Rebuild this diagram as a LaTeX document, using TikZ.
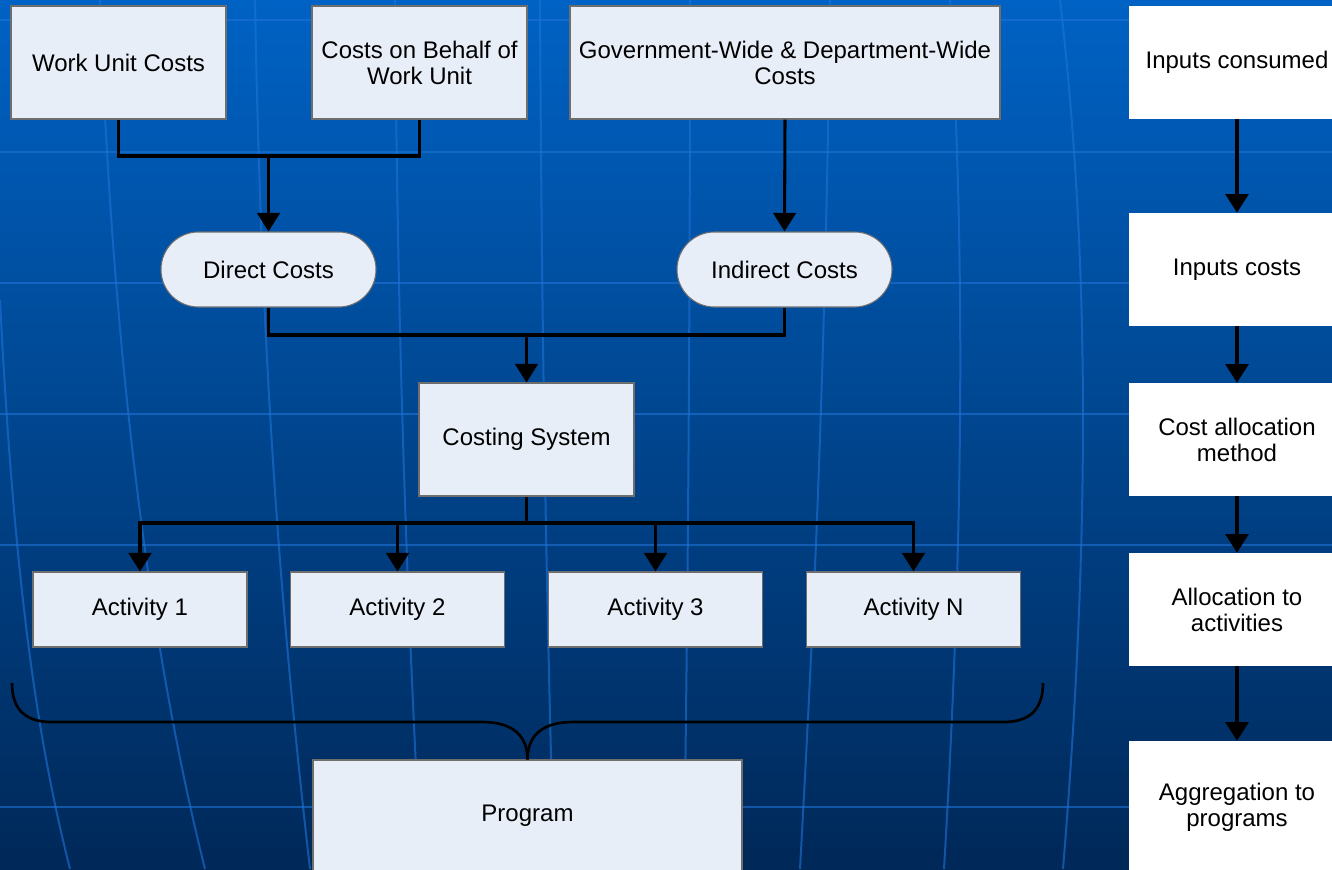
\documentclass[tikz,border=0pt]{standalone}
\usepackage{fontspec}
\setmainfont{Liberation Sans}
\usetikzlibrary{arrows.meta}

\definecolor{boxfill}{RGB}{232,238,248}
\definecolor{boxedge}{RGB}{110,110,110}
\definecolor{bgtop}{RGB}{0,98,196}
\definecolor{bgmid}{RGB}{0,76,154}
\definecolor{bgbot}{RGB}{0,40,88}
\definecolor{gridblue}{RGB}{30,115,215}

\tikzset{
  costbox/.style={draw=boxedge, fill=boxfill, line width=0.8pt, align=center,
    minimum width=161.25pt, minimum height=84.75pt, inner sep=2pt,
    font=\fontsize{18}{19.5}\selectfont},
  pillbox/.style={costbox, rounded corners=28pt, minimum height=56.25pt},
  actbox/.style={costbox, minimum width=160.5pt, minimum height=56.25pt},
  stagebox/.style={fill=white, align=center, minimum width=162pt,
    minimum height=84.75pt, inner sep=2pt, font=\fontsize{18}{19.5}\selectfont},
  link/.style={line width=2.3pt},
  flow/.style={link, -{Triangle[width=17pt,length=14pt]}},
  stageflow/.style={line width=3pt, -{Triangle[width=17pt,length=14pt]}},
  gridline/.style={draw=gridblue, opacity=0.6},
}

\begin{document}
\begin{tikzpicture}[x=0.75pt,y=0.75pt]
\useasboundingbox (0,0) rectangle (1332,-869);
% background
\shade [top color=bgtop, middle color=bgmid, bottom color=bgbot] (0,0) rectangle (1332,-869);
\foreach \y in {-20,-152,-283,-414,-545,-807}
  \draw [gridline, line width=2.2pt] (0,\y) -- (1332,\y);
\draw [gridline, line width=1.5pt] (0,-300) .. controls (15,-600) and (40,-750) .. (70,-869);
\draw [gridline, line width=1.5pt] (100,0) .. controls (112,-350) and (150,-650) .. (205,-869);
\draw [gridline, line width=1.5pt] (255,0) .. controls (262,-400) and (285,-650) .. (310,-869);
\draw [gridline, line width=1.5pt] (395,0) .. controls (398,-400) and (410,-650) .. (421,-869);
\draw [gridline, line width=1.5pt] (540,0) .. controls (542,-400) and (548,-650) .. (554,-869);
\draw [gridline, line width=1.5pt] (690,0) .. controls (690,-400) and (687,-650) .. (684,-869);
\draw [gridline, line width=1.5pt] (830,0) .. controls (825,-400) and (812,-650) .. (800,-869);
\draw [gridline, line width=1.5pt] (950,0) .. controls (968,-300) and (960,-600) .. (944,-869);
\draw [gridline, line width=1.5pt] (1060,0) .. controls (1095,-300) and (1085,-600) .. (1063,-869);

% cost sources
\node [costbox] (wuc) at (118.5,-62.5) {Work Unit Costs};
\node [costbox] (cob) at (419.5,-62.5) {Costs on Behalf of\\Work Unit};
\node [costbox, minimum width=322.5pt] (gov) at (785,-62.5) {Government-Wide \& Department-Wide\\Costs};
\node [pillbox] (direct) at (268.5,-269.5) {Direct Costs};
\node [pillbox] (indirect) at (784.5,-269.5) {Indirect Costs};
\node [costbox] (csys) at (526.5,-439.5) {Costing System};
\node [actbox] (act1) at (140,-609.5) {Activity 1};
\node [actbox] (act2) at (397.5,-609.5) {Activity 2};
\node [actbox] (act3) at (655.5,-609.5) {Activity 3};
\node [actbox] (actn) at (913.5,-609.5) {Activity N};
\node [costbox, minimum width=321.75pt, minimum height=84pt] (prog) at (527.5,-816) {Program};

\coordinate (djoin) at (268.5,-156);
\coordinate (cjoin) at (526.5,-335);
\coordinate (ajoin) at (526.5,-523);
\draw [link] (wuc.south) |- (djoin) -| (cob.south);
\draw [flow] (djoin) -- (direct.north);
\draw [flow] (gov.south) -- (indirect.north);
\draw [link] (direct.south) |- (cjoin) -| (indirect.south);
\draw [flow] (cjoin) -- (csys.north);
\draw [link] (csys.south) -- (ajoin);
\draw [flow] (ajoin) -| (act1.north);
\draw [flow] (ajoin) -| (act2.north);
\draw [flow] (ajoin) -| (act3.north);
\draw [flow] (ajoin) -| (actn.north);

% brace
\coordinate (braceL) at (12,-683);
\coordinate (braceR) at (1043,-683);
\draw [line width=2pt] (braceL) .. controls (12,-712) and (28,-722) .. (52,-722) -- (482,-722)
  .. controls (512,-722) and (527.5,-735) .. (prog.north);
\draw [line width=2pt] (braceR) .. controls (1043,-712) and (1027,-722) .. (1003,-722) -- (573,-722)
  .. controls (543,-722) and (527.5,-735) .. (prog.north);

% stages
\node [stagebox] (s1) at (1237,-62.5) {Inputs consumed};
\node [stagebox] (s2) at (1237,-269.5) {Inputs costs};
\node [stagebox] (s3) at (1237,-439.5) {Cost allocation\\method};
\node [stagebox] (s4) at (1237,-609.5) {Allocation to\\activities};
\node [stagebox, minimum height=99pt] (s5) at (1237,-807) {Aggregation to\\programs};
\draw [stageflow] (s1) -- (s2);
\draw [stageflow] (s2) -- (s3);
\draw [stageflow] (s3) -- (s4);
\draw [stageflow] (s4) -- (s5);
\end{tikzpicture}
\end{document}
